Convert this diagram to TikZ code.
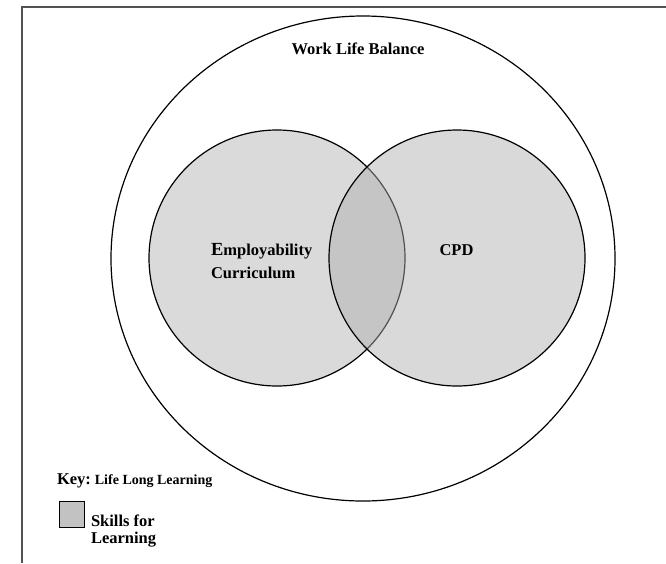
\documentclass[tikz,border=0pt]{standalone}
\usepackage{fontspec}
\setmainfont{Liberation Serif}
\usetikzlibrary{shapes.geometric}
\definecolor{leftfill}{gray}{0.855}
\definecolor{rightfill}{gray}{0.68}
\definecolor{framecol}{gray}{0.32}
\definecolor{keyfill}{gray}{0.76}
\tikzset{
  ring/.style={draw=black, line width=1.2pt, inner sep=0pt, outer sep=0pt},
  lbl/.style={inner sep=0pt, outer sep=0pt, font=\fontsize{16.5}{19}\selectfont\bfseries},
  small/.style={inner sep=0pt, outer sep=0pt, font=\fontsize{14}{16}\selectfont\bfseries}
}
\begin{document}
\begin{tikzpicture}[x=1pt,y=-1pt]
\useasboundingbox (0,0) rectangle (666,563);
% frame
\coordinate (ftl) at (22,7);
\coordinate (ftr) at (666,7);
\coordinate (fbl) at (22,563);
\draw[framecol, line width=1.6pt] (ftr) -- (ftl) -- (fbl);
% outer ellipse
\node[ring, ellipse, minimum width=504pt, minimum height=485pt] (wlb) at (363,258.5) {};
% venn circles
\node[ring, circle, fill=leftfill, minimum size=256pt] (emp) at (277,258) {};
\node[ring, circle, fill=rightfill, fill opacity=0.467, minimum size=256pt] (cpd) at (457,258) {};
% labels
\node[lbl, anchor=base] (wlbt) at (358,54) {Work Life Balance};
\node[lbl, anchor=base west] (empt) at (211,255) {{\fontsize{18.5}{20}\selectfont E}mployability};
\node[lbl, anchor=base west] (curt) at (211,278) {Curriculum};
\node[lbl, anchor=base] (cpdt) at (456.5,255) {CPD};
% key
\node[lbl, anchor=base west] (key) at (57,484.5) {Key:};
\node[small, anchor=base west] (lll) at (key.base east) {\hspace{4pt}Life Long Learning};
\node[draw=black, line width=1pt, fill=keyfill, minimum width=25pt, minimum height=26pt, inner sep=0pt, anchor=north west] (box) at (59,501) {};
\node[lbl, anchor=base west] (sk1) at (91,526) {Skills for};
\node[lbl, anchor=base west] (sk2) at (91,543.5) {Learning};
\end{tikzpicture}
\end{document}
